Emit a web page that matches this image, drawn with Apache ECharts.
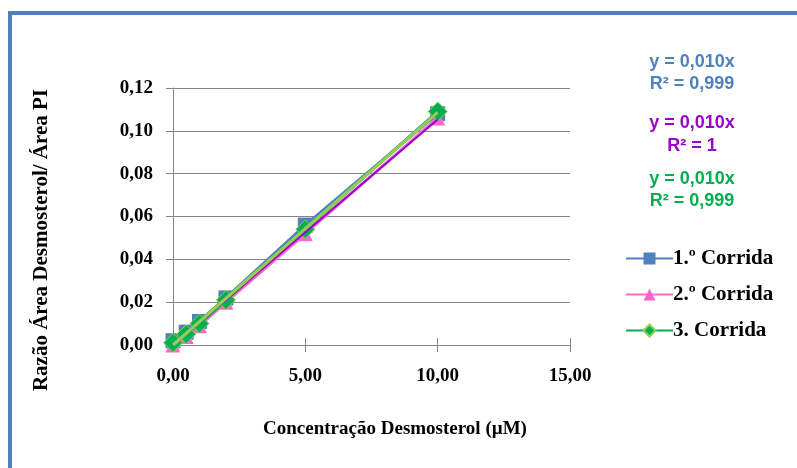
<!DOCTYPE html>
<html>
<head>
<meta charset="utf-8">
<script src="https://cdn.jsdelivr.net/npm/echarts@6/dist/echarts.min.js"></script>
<style>
  html, body { margin: 0; padding: 0; background: #fff; }
  #chart { width: 797px; height: 468px; }
</style>
</head>
<body>
<div id="chart"></div>
<script>
// Concentration (µM) of each calibration standard
const concentrations = [0, 0.5, 1, 2, 5, 10];
// Area ratio Desmosterol / internal standard, per run
const run1 = [0.002, 0.006, 0.011, 0.022, 0.056, 0.108];
const run2 = [0.000, 0.004, 0.009, 0.020, 0.052, 0.106];
const run3 = [0.001, 0.005, 0.010, 0.021, 0.054, 0.109];
const seriesNames = ['1.º Corrida', '2.º Corrida', '3. Corrida'];
const equations = [
  ['y = 0,010x', 'R² = 0,999'],
  ['y = 0,010x', 'R² = 1'],
  ['y = 0,010x', 'R² = 0,999']
];
const xTicks = [0, 5, 10, 15];
const yTitle = 'Razão Área Desmosterol/ Área PI';
const xTitle = 'Concentração Desmosterol (µM)';

const pairs = ys => concentrations.map((x, i) => [x, ys[i]]);

// Least-squares line through the origin, drawn over the measured range
function trend(ys) {
  let sxy = 0, sxx = 0;
  concentrations.forEach((x, i) => { sxy += x * ys[i]; sxx += x * x; });
  const b = sxy / sxx;
  const xmax = Math.max(...concentrations);
  return [[0, 0], [xmax, b * xmax]];
}

const comma = (v, d) => v.toFixed(d).replace('.', ',');
const serif = 'Liberation Serif, Times New Roman, serif';
const sans = 'Liberation Sans, Arial, sans-serif';

const chart = echarts.init(document.getElementById('chart'), null, { renderer: 'canvas' });

// Trendline equation boxes, one per run
const eqColors = ['#4F81BD', '#9900CC', '#00B050'];
const eqCenters = [[62, 84], [123, 146], [179, 201]];
const eqGraphics = [];
equations.forEach((eq, k) => {
  eq.forEach((line, j) => {
    eqGraphics.push({
      type: 'text',
      x: 692, y: eqCenters[k][j],
      style: {
        text: line, fill: eqColors[k],
        font: 'bold 18px ' + sans,
        align: 'center', verticalAlign: 'middle'
      }
    });
  });
});

chart.setOption({
  animation: false,
  backgroundColor: '#ffffff',
  graphic: [
    {
      type: 'rect',
      shape: { x: 10, y: 13, width: 900, height: 600 },
      style: { fill: 'none', stroke: '#4F81BD', lineWidth: 4 }
    },
    {
      type: 'text',
      x: 42, y: 240, rotation: Math.PI / 2,
      style: {
        text: yTitle, fill: '#000',
        font: 'bold 21px ' + serif,
        align: 'center', verticalAlign: 'middle'
      }
    },
    {
      type: 'text',
      x: 395, y: 429,
      style: {
        text: xTitle, fill: '#000',
        font: 'bold 19px ' + serif,
        align: 'center', verticalAlign: 'middle'
      }
    },
    ...eqGraphics
  ],
  grid: { left: 173, right: 227, top: 88, bottom: 123 },
  legend: {
    orient: 'vertical',
    left: 620, top: 243,
    itemWidth: 47, itemHeight: 15, itemGap: 15,
    data: seriesNames,
    textStyle: { fontFamily: serif, fontWeight: 'bold', fontSize: 21, color: '#000', padding: [0, 0, 0, -5] }
  },
  xAxis: [
    {
      type: 'value', min: 0, max: 15, interval: 5,
      axisLine: { show: true, lineStyle: { color: '#868686', width: 1 } },
      axisTick: { show: true, length: 7, lineStyle: { color: '#868686' } },
      axisLabel: {
        margin: 22, fontFamily: serif, fontWeight: 'bold', fontSize: 19, color: '#000',
        formatter: v => xTicks.includes(v) ? comma(v, 2) : ''
      },
      splitLine: { show: false }
    },
    {
      type: 'value', min: 0, max: 15, interval: 5, position: 'bottom',
      axisLine: { show: false },
      axisTick: { show: true, inside: true, length: 7, lineStyle: { color: '#868686' } },
      axisLabel: { show: false },
      splitLine: { show: false }
    }
  ],
  yAxis: {
    type: 'value', min: 0, max: 0.12, interval: 0.02,
    axisLine: { show: true, lineStyle: { color: '#868686', width: 1 } },
    axisTick: { show: true, length: 7, lineStyle: { color: '#868686' } },
    axisLabel: {
      margin: 20, fontFamily: serif, fontWeight: 'bold', fontSize: 19, color: '#000',
      formatter: v => comma(v, 2)
    },
    splitLine: { show: true, lineStyle: { color: '#868686', width: 1 } }
  },
  series: [
    {
      name: seriesNames[0], type: 'line', data: pairs(run1), z: 2,
      symbol: 'rect', symbolSize: 15,
      lineStyle: { color: '#4F81BD', width: 3 },
      itemStyle: { color: '#4F81BD' }
    },
    {
      name: seriesNames[1], type: 'line', data: pairs(run2), z: 3,
      symbol: 'triangle', symbolSize: 15,
      lineStyle: { color: '#FF66CC', width: 3 },
      itemStyle: { color: '#FF66CC' }
    },
    {
      name: seriesNames[2], type: 'line', data: pairs(run3), z: 4,
      symbol: 'diamond', symbolSize: 19,
      lineStyle: { color: '#00B050', width: 3 },
      itemStyle: { color: '#00B050', borderColor: '#92D050', borderWidth: 1 }
    },
    {
      type: 'line', data: trend(run1), z: 5, symbol: 'none', silent: true,
      lineStyle: { color: '#4F81BD', width: 3 }
    },
    {
      type: 'line', data: trend(run2), z: 6, symbol: 'none', silent: true,
      lineStyle: { color: '#9900CC', width: 2 }
    },
    {
      type: 'line', data: trend(run3), z: 7, symbol: 'none', silent: true,
      lineStyle: { color: '#92D050', width: 3 }
    }
  ]
});
</script>
</body>
</html>
